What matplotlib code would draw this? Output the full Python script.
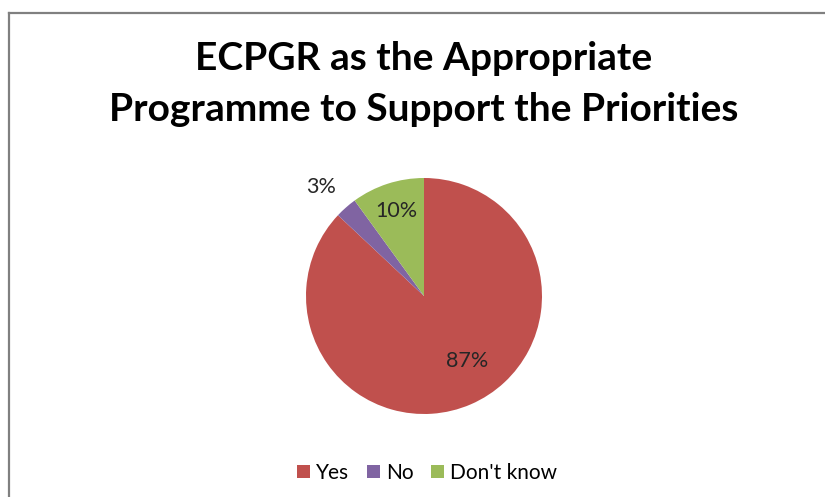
import numpy as np
from matplotlib import pyplot as plt
from matplotlib.lines import Line2D

categorias = ['Yes', 'No', "Don't know"]
valores = [87, 3, 10]
colores = ['#C0504D', '#8064A2', '#9BBB59']
etiquetas = ['87%', '3%', '10%']
distancias = [0.66, 1.27, 0.76]
giros = [10, 2, 0]  # ajuste del angulo de cada etiqueta
titulo = 'ECPGR as the Appropriate\nProgramme to Support the Priorities'

plt.rcParams['font.family'] = ['Lato', 'DejaVu Sans']

fig = plt.figure(figsize=(8.25, 4.97), dpi=100)

# borde del grafico (solo arriba e izquierda, como el recorte original)
fig.add_artist(Line2D([8.5 / 825, 8.5 / 825], [0, 1 - 12.5 / 497], transform=fig.transFigure,
                      color='#808080', lw=1.6))
fig.add_artist(Line2D([8.5 / 825, 1], [1 - 12.5 / 497, 1 - 12.5 / 497], transform=fig.transFigure,
                      color='#808080', lw=1.6))

fig.text(424 / 825, 1 - 84 / 497, titulo, ha='center', va='center', fontsize=28,
         fontweight='bold', linespacing=1.55, color='black')

ax = fig.add_axes([306 / 825, 83 / 497, 236 / 825, 236 / 497])
cunas, _ = ax.pie(valores, colors=colores, startangle=90, counterclock=False, radius=1,
                  wedgeprops={'linewidth': 0})
for cuna, etq, d, g in zip(cunas, etiquetas, distancias, giros):
  ang = np.deg2rad((cuna.theta1 + cuna.theta2) / 2 + g)
  ax.text(d * np.cos(ang), d * np.sin(ang), etq, ha='center', va='center',
          fontsize=15.5, color='#262626')
ax.set_xlim(-1, 1)
ax.set_ylim(-1, 1)

ax.legend(cunas, categorias, loc='center', bbox_to_anchor=(427 / 825, 1 - 473 / 497),
          bbox_transform=fig.transFigure, ncol=3, frameon=False, fontsize=15,
          handlelength=0.62, handleheight=0.62, handletextpad=0.3, columnspacing=0.85)

fig.savefig('out.png', dpi=100)
